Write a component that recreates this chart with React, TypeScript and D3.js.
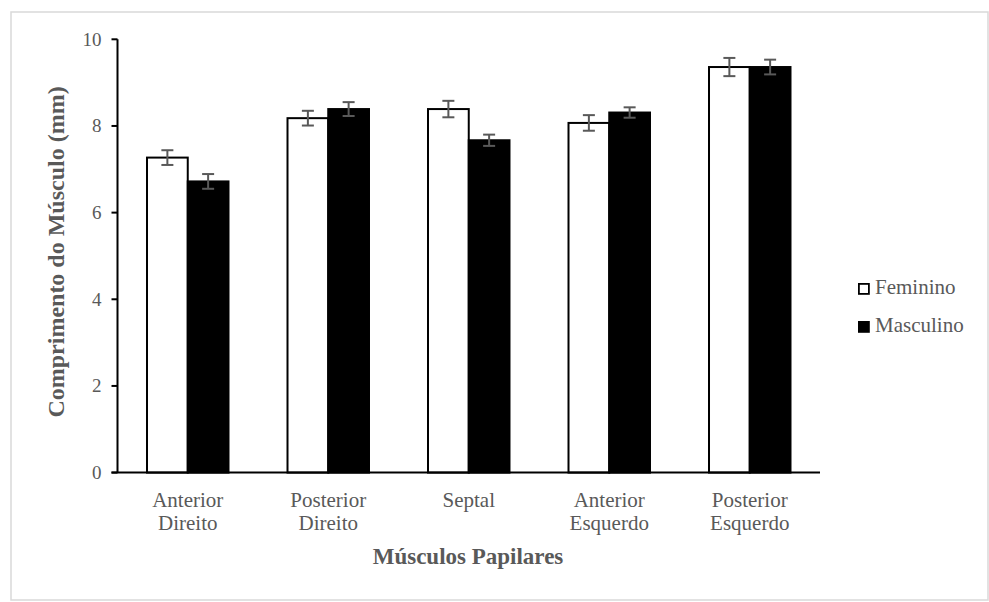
import React from "react";
import * as d3 from "d3";

const categories = [
  ["Anterior", "Direito"],
  ["Posterior", "Direito"],
  ["Septal"],
  ["Anterior", "Esquerdo"],
  ["Posterior", "Esquerdo"],
];
const seriesNames = ["Feminino", "Masculino"];
const femininoValues = [7.27, 8.18, 8.39, 8.07, 9.36];
const femininoErrors = [0.17, 0.17, 0.19, 0.18, 0.21];
const masculinoValues = [6.72, 8.39, 7.67, 8.31, 9.36];
const masculinoErrors = [0.17, 0.16, 0.13, 0.12, 0.17];
const yTicks = [0, 2, 4, 6, 8, 10];

const W = 989;
const H = 602;
const FONT = '"Liberation Serif", "DejaVu Serif", serif';
const TEXT = "#595959";

export default function App() {
  const left = 117.5;
  const right = 820;
  const top = 39.3;
  const bottom = 472.6;
  const keys = categories.map((_, i) => String(i));
  const x = d3.scaleBand().domain(keys).range([left, right]).paddingInner(0.42).paddingOuter(0.21);
  const xs = d3.scaleBand().domain(seriesNames).range([0, x.bandwidth()]);
  const y = d3.scaleLinear().domain([0, 10]).range([bottom, top]);
  const series = [
    { name: seriesNames[0], values: femininoValues, errors: femininoErrors, fill: "#ffffff" },
    { name: seriesNames[1], values: masculinoValues, errors: masculinoErrors, fill: "#000000" },
  ];
  const cap = 6;
  const ts = { fontFamily: FONT } as React.CSSProperties;

  return (
    <svg width={W} height={H} style={{ display: "block", position: "absolute", left: 0, top: 0 }}>
      <rect x={0} y={0} width={W} height={H} fill="#ffffff" />
      <rect x={11} y={12} width={977} height={588} fill="none" stroke="#d9d9d9" strokeWidth={1.5} />
      {series.map((s) =>
        s.values.map((v, i) => {
          const bx = (x(keys[i]) as number) + (xs(s.name) as number);
          return (
            <rect
              key={s.name + i}
              x={bx}
              y={y(v)}
              width={xs.bandwidth()}
              height={bottom - y(v)}
              fill={s.fill}
              stroke="#000"
              strokeWidth={2}
            />
          );
        })
      )}
      {series.map((s) =>
        s.values.map((v, i) => {
          const cx = (x(keys[i]) as number) + (xs(s.name) as number) + xs.bandwidth() / 2;
          const y1 = y(v + s.errors[i]);
          const y2 = y(v - s.errors[i]);
          return (
            <g key={"e" + s.name + i} stroke="#595959" strokeWidth={2}>
              <line x1={cx} x2={cx} y1={y1} y2={y2} />
              <line x1={cx - cap} x2={cx + cap} y1={y1} y2={y1} />
              <line x1={cx - cap} x2={cx + cap} y1={y2} y2={y2} />
            </g>
          );
        })
      )}
      <line x1={left} x2={left} y1={top} y2={bottom} stroke="#000" strokeWidth={2} />
      {yTicks.map((t) => (
        <g key={"t" + t}>
          <line x1={left - 6} x2={left} y1={y(t)} y2={y(t)} stroke="#000" strokeWidth={2} />
          <text x={left - 16} y={y(t)} dy="0.33em" textAnchor="end" fontSize={19} fill={TEXT} style={ts}>
            {t}
          </text>
        </g>
      ))}
      <line x1={left - 6} x2={right} y1={bottom} y2={bottom} stroke="#000" strokeWidth={2} />
      {categories.map((lines, i) => {
        const cx = (x(keys[i]) as number) + x.bandwidth() / 2;
        return (
          <text key={"c" + i} x={cx} textAnchor="middle" fontSize={21} fill={TEXT} style={ts}>
            {lines.map((l, j) => (
              <tspan key={j} x={cx} y={507 + j * 23}>
                {l}
              </tspan>
            ))}
          </text>
        );
      })}
      <text x={468} y={564} textAnchor="middle" fontSize={23} fontWeight="bold" fill={TEXT} style={ts}>
        Músculos Papilares
      </text>
      <text
        transform={`translate(64, ${(top + bottom) / 2 - 4}) rotate(-90)`}
        textAnchor="middle"
        fontSize={24}
        fontWeight="bold"
        fill={TEXT}
        style={ts}
      >
        Comprimento do Músculo (mm)
      </text>
      {series.map((s, i) => (
        <g key={"l" + s.name} transform={`translate(858, ${283 + i * 38})`}>
          <rect x={0.9} y={0.9} width={10} height={10} fill={s.fill} stroke="#000" strokeWidth={1.8} />
          <text x={17} y={11} fontSize={21} fill={TEXT} style={ts}>
            {s.name}
          </text>
        </g>
      ))}
    </svg>
  );
}
